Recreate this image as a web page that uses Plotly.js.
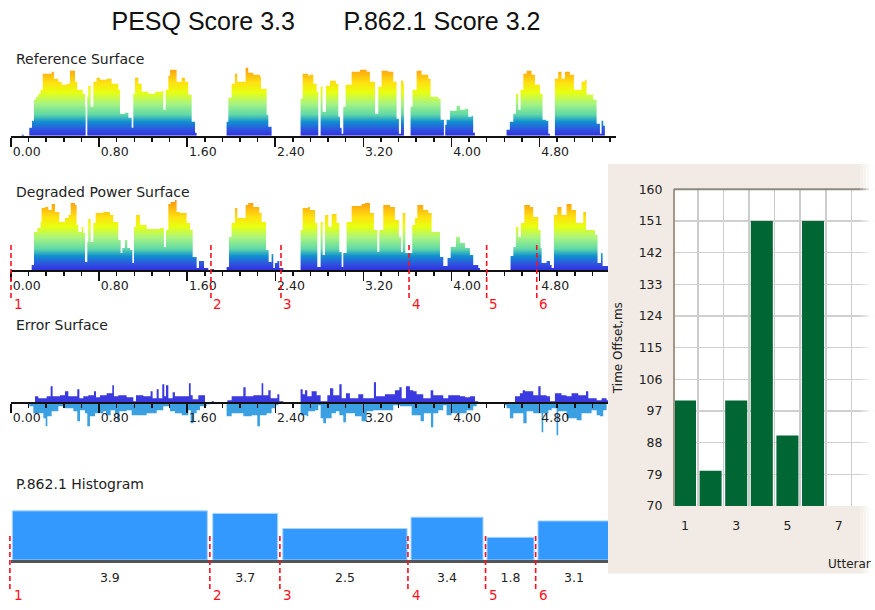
<!DOCTYPE html>
<html><head><meta charset="utf-8">
<script src="https://cdn.plot.ly/plotly-3.0.0.min.js"></script>
<style>html,body{margin:0;padding:0;background:#fff}#c{width:875px;height:610px}</style>
</head><body><div id="c"></div>
<script>
// Time axis ticks (s)
const timeTicks = [0,0.8,1.6,2.4,3.2,4.0,4.8];
const timeLabels = ['0.00','0.80','1.60','2.40','3.20','4.00','4.80'];

// Reference surface: step envelope (time s, level)
const refT = [0.097,0.118,0.166,0.191,0.209,0.227,0.248,0.269,0.288,0.369,0.390,0.430,0.460,0.506,0.536,0.581,0.602,0.651,0.672,0.678,0.693,0.702,0.723,0.748,0.778,0.808,0.869,0.914,0.975,0.990,1.035,1.066,1.096,1.111,1.126,1.156,1.187,1.247,1.311,1.374,1.383,1.405,1.429,1.445,1.489,1.504,1.550,1.580,1.610,1.641,1.671,1.686,
1.958,1.974,2.004,2.034,2.055,2.131,2.155,2.201,2.261,2.270,2.307,2.322,2.337,2.367,
2.630,2.649,2.700,2.715,2.746,2.776,2.791,2.812,2.830,2.861,2.897,2.951,2.973,2.988,3.003,3.018,3.039,3.094,3.169,3.230,3.260,3.306,3.336,3.366,3.427,3.472,3.502,3.523,3.542,3.563,3.569,
3.629,3.647,3.684,3.729,3.790,3.811,3.881,3.902,3.932,3.944,3.956,3.987,4.047,4.077,4.123,4.153,4.183,4.198,4.214,
4.501,4.531,4.562,4.586,4.607,4.628,4.653,4.683,4.728,4.759,4.804,4.828,4.858,4.880,4.895,
4.940,4.970,5.000,5.031,5.076,5.113,5.182,5.213,5.228,5.288,5.319,5.349,5.364,5.379,5.394];
const refV = [1,0,8,15,36,39,42,46,62,64,57,54,51,52,65,54,46,42,29,0,39,50,29,54,58,56,57,52,46,22,23,18,8,42,58,52,44,42,44,45,26,46,60,66,66,54,58,54,41,14,3,0,
14,38,52,62,54,68,63,61,59,47,47,21,9,0,
37,62,60,61,52,44,0,49,24,50,55,52,19,8,2,29,51,64,66,64,54,22,49,65,64,54,17,2,55,52,0,
29,46,65,61,57,39,37,16,0,11,16,25,30,26,27,19,20,3,0,
6,14,22,42,26,46,62,65,61,51,42,16,15,2,0,
57,64,57,64,61,46,54,56,41,36,12,2,15,10,0];

// Degraded power surface: step envelope
const degT = [0.188,0.209,0.239,0.269,0.278,0.309,0.339,0.369,0.400,0.439,0.490,0.521,0.542,0.581,0.596,0.611,0.642,0.657,0.672,0.693,0.702,0.723,0.748,0.769,0.838,0.899,0.929,0.975,0.996,1.011,1.035,1.056,1.081,1.102,1.117,1.135,1.171,1.232,1.353,1.389,1.408,1.429,1.450,1.489,1.504,1.535,1.595,1.626,1.650,1.686,1.707,1.731,1.753,1.792,1.822,1.843,
1.958,1.980,2.004,2.034,2.055,2.131,2.155,2.201,2.255,2.276,2.316,2.340,2.367,2.382,2.397,2.419,2.437,2.473,
2.630,2.649,2.700,2.715,2.761,2.782,2.812,2.830,2.852,2.882,2.912,2.957,2.982,3.003,3.018,3.048,3.094,3.184,3.215,3.260,3.296,3.327,3.345,3.381,3.442,3.487,3.523,3.542,3.557,3.581,3.617,3.644,3.669,3.690,3.744,3.790,3.820,3.872,3.896,3.926,3.965,3.993,4.041,4.077,4.123,4.168,4.198,4.244,4.259,
4.537,4.562,4.586,4.607,4.631,4.662,4.713,4.743,4.789,4.810,4.819,4.864,4.895,4.910,4.931,4.961,5.000,5.046,5.091,5.131,5.197,5.222,5.303,5.327,5.358,5.373,5.415,5.45];
const degV = [5,38,42,48,62,63,60,66,58,48,52,55,67,65,45,38,43,37,8,28,51,28,47,57,58,55,48,30,17,22,30,22,20,7,43,55,45,41,42,23,40,66,68,70,58,57,47,40,13,2,9,9,2,0,1,0,
3,33,47,62,52,65,67,63,57,48,20,8,16,2,7,9,2,0,
40,62,63,60,47,3,48,15,55,43,56,47,18,3,17,48,64,66,67,57,40,18,40,65,63,50,33,18,57,17,17,45,52,65,60,57,38,38,13,4,12,23,33,27,22,15,5,2,0,
14,23,43,33,47,65,63,53,40,22,7,9,5,2,55,63,55,66,60,47,58,40,35,7,17,4,4,0];

// Error surface: positive side
const errUpT = [0.166,0.218,0.248,0.324,0.360,0.378,0.445,0.490,0.521,0.602,0.621,0.657,0.702,0.754,0.772,0.808,0.869,0.920,0.935,0.975,1.050,1.111,1.135,1.202,1.268,1.286,1.323,1.341,1.374,1.392,1.408,1.429,1.468,1.489,1.616,1.632,1.650,1.701,1.762,1.822,1.843,1.965,2.004,2.110,2.131,2.201,2.276,2.291,2.337,2.358,2.419,2.437,2.473,
2.630,2.649,2.670,2.691,2.730,2.776,2.812,2.873,2.897,2.927,2.982,3.003,3.042,3.078,3.154,3.199,3.296,3.315,3.396,3.487,3.527,3.548,3.587,3.623,3.654,3.684,3.744,3.811,3.835,3.926,3.971,4.077,4.123,4.168,4.214,4.244,
4.577,4.622,4.647,4.668,4.743,4.789,4.810,4.864,4.895,4.940,5.000,5.046,5.091,5.152,5.222,5.243,5.319,5.364,5.409,5.45];
const errUpV = [1,7,5,7,17,7,8,12,7,14,5,7,8,12,6,8,10,18,7,8,6,2,8,7,12,5,14,5,19,7,18,5,11,7,20,8,4,8,0,2,0,3,7,16,7,8,20,8,13,5,9,2,0,
14,9,13,7,12,8,2,8,15,8,19,5,10,5,9,5,21,7,9,13,16,5,17,13,12,9,5,13,8,5,8,7,6,7,2,0,
7,10,13,12,8,17,8,7,2,10,8,7,10,8,12,5,3,5,3,0];

// Error surface: negative side
const errLowT = [0.166,0.203,0.294,0.315,0.330,0.369,0.430,0.490,0.566,0.602,0.627,0.672,0.693,0.717,0.763,0.838,0.863,0.905,0.944,0.966,0.984,1.050,1.096,1.232,1.323,1.383,1.444,1.489,1.550,1.610,1.632,1.656,1.686,1.716,1.777,1.807,
1.958,2.004,2.110,2.186,2.237,2.261,2.322,2.367,2.397,2.428,
2.630,2.685,2.700,2.761,2.791,2.812,2.836,2.861,2.912,2.951,2.982,3.018,3.042,3.124,3.184,3.230,3.290,3.472,3.533,3.639,3.720,3.750,3.814,3.835,3.881,3.926,3.956,4.002,4.138,4.198,4.229,
4.477,4.501,4.531,4.562,4.653,4.683,4.743,4.819,4.834,4.880,4.910,4.955,4.970,5.046,5.137,5.182,5.273,5.319,5.349,5.379,5.409];
const errLowV = [-3,-10,-15,-23,-13,-8,-3,-5,-8,-18,-7,-10,-23,-13,-10,-8,-12,-7,-10,-17,-8,-7,-12,-10,-7,-3,-8,-10,-12,-7,-20,-10,-7,-3,-1,0,
-13,-10,-13,-12,-23,-12,-10,-5,-2,0,
-12,-13,-8,-7,-2,-15,-20,-15,-10,-8,-12,-19,-10,-13,-18,-8,-7,-2,-3,-12,-18,-10,-24,-10,-7,-2,-12,-10,-7,-3,0,
-2,-5,-15,-10,-20,-8,-10,-29,-10,-7,-5,-32,-8,-15,-17,-10,-7,-12,-13,-7,0];

// P.862.1 histogram, one bar per utterance
const histStart = [0.012,1.832,2.468,3.633,4.323,4.786];
const histEnd   = [1.783,2.422,3.597,4.287,4.750,5.44];
const histScore = [3.9,3.7,2.5,3.4,1.8,3.1];

// Utterance boundaries (s) and their labels
const uttTimes = [0,1.816,2.452,3.615,4.32,4.775];
const uttLabels = ['1','2','3','4','5','6'];

// Time offset per utterance
const uttNumbers = [1,2,3,4,5,6];
const offsetMs = [100,80,100,151,90,151];
const offsetTicks = [70,79,88,97,106,115,124,133,142,151,160];

const W=875,H=610;
const fx=p=>p/W, fy=p=>1-p/H;
const sans='"DejaVu Sans", sans-serif';
const labelFont={family:sans,size:12.5,color:'#222'};

const surfaceScale=[[0,'#3030e0'],[0.08,'#3050e0'],[0.2,'#1090d0'],[0.3,'#60d8a8'],[0.46,'#a8f480'],[0.62,'#e8ff10'],[0.76,'#ffe010'],[0.88,'#ffb810'],[0.97,'#ff9c10'],[1,'#ff9010']];
function surface(t,v,xa,ya){
  return {x:t,y:v,xaxis:xa,yaxis:ya,type:'scatter',mode:'lines',hoverinfo:'skip',
    line:{shape:'hv',width:0},fill:'tozeroy',
    fillgradient:{type:'vertical',colorscale:surfaceScale,start:0,stop:70}};
}
function errFill(t,v,col){
  return {x:t,y:v,xaxis:'x3',yaxis:'y3',type:'scatter',mode:'lines',hoverinfo:'skip',
    line:{shape:'hv',width:0},fill:'tozeroy',fillcolor:col};
}
function uttLine(t,ya){
  return {x:[t,t],y:[0,1],xaxis:'x6',yaxis:ya,type:'scatter',mode:'lines',hoverinfo:'skip',
    line:{color:'#ff1020',width:1.6,dash:'5px,3px'}};
}
const histMid=histStart.map((s,i)=>(s+histEnd[i])/2);
const data=[
  surface(refT,refV,'x','y'),
  surface(degT,degV,'x2','y2'),
  errFill(errUpT,errUpV,'#3a3ae0'),
  errFill(errLowT,errLowV,'#3aa0e2'),
  {type:'bar',x:histMid,y:histScore,width:histStart.map((s,i)=>histEnd[i]-s),xaxis:'x4',yaxis:'y4',
   marker:{color:'#3399ff',line:{color:'#a8d4ff',width:1}},hoverinfo:'skip'},
  {type:'bar',x:uttNumbers,y:offsetMs,width:0.86,xaxis:'x5',yaxis:'y5',
   marker:{color:'#006633'},hoverinfo:'skip'}
];
uttTimes.forEach(t=>{
  data.push(uttLine(t,'y6'));
  data.push(uttLine(t-0.01,'y7'));
});
const timeAxis=(l,r,maxT)=>({domain:[fx(l),fx(r)],range:[0,maxT],tickmode:'array',tickvals:timeTicks,ticktext:timeLabels,
  ticks:'outside',ticklen:9,tickwidth:1.5,tickcolor:'#111',showgrid:false,zeroline:false,showline:true,linecolor:'#111',linewidth:2,
  ticklabelposition:'outside right',tickfont:labelFont,ticklabelstandoff:3,
  minor:{tickmode:'linear',tick0:0,dtick:0.16,ticks:'outside',ticklen:4,tickwidth:1.5,tickcolor:'#111',showgrid:false}});
const hiddenY=(top,base,r)=>({domain:[fy(base),fy(top)],range:r,visible:false,fixedrange:true});

const shapes=[
  {type:'rect',xref:'paper',yref:'paper',x0:fx(608),x1:1,y0:fy(573.6),y1:fy(164),fillcolor:'#f2ebe5',line:{width:0},layer:'below'},
  {type:'rect',xref:'paper',yref:'paper',x0:fx(675),x1:1,y0:fy(506),y1:fy(189.3),fillcolor:'#ffffff',line:{width:0},layer:'below'},
  {type:'line',xref:'paper',yref:'paper',x0:fx(674),x1:1,y0:fy(189.3),y1:fy(189.3),line:{color:'#8f887c',width:2},layer:'above'}
];
[[860,.2],[863,.3],[866,.45],[869,.85]].forEach(a=>shapes.push(
  {type:'rect',xref:'paper',yref:'paper',x0:fx(a[0]),x1:1,y0:fy(574),y1:fy(164),fillcolor:'#fff',opacity:a[1],line:{width:0},layer:'above'}));

const heads=[['Reference Surface',59],['Degraded Power Surface',192],['Error Surface',325],['P.862.1 Histogram',484]];
const annotations=heads.map(h=>({text:h[0],xref:'paper',yref:'paper',x:fx(14),y:fy(h[1]),xanchor:'left',yanchor:'middle',showarrow:false,
  font:{family:sans,size:14,color:'#222'}}));
uttLabels.forEach((s,i)=>{
  const t=uttTimes[i];
  annotations.push({text:s,xref:'x2',yref:'paper',x:t,y:fy(304),xshift:7,xanchor:'center',yanchor:'middle',showarrow:false,font:{family:sans,size:13.5,color:'#ff1020'}});
  annotations.push({text:s,xref:'x4',yref:'paper',x:t,y:fy(595),xshift:7,xanchor:'center',yanchor:'middle',showarrow:false,font:{family:sans,size:13.5,color:'#ff1020'}});
});
annotations.push({text:'Utterar',xref:'paper',yref:'paper',x:fx(826),y:fy(564),xanchor:'left',yanchor:'middle',showarrow:false,font:{family:sans,size:12,color:'#222'}});

const layout={
  width:W,height:H,margin:{l:0,r:0,t:0,b:0},paper_bgcolor:'#fff',plot_bgcolor:'rgba(0,0,0,0)',showlegend:false,barmode:'overlay',
  title:{text:'PESQ Score 3.3\u00a0\u00a0\u00a0\u00a0\u00a0\u00a0\u00a0P.862.1 Score 3.2',x:fx(326),xanchor:'center',y:fy(21),yanchor:'middle',xref:'container',yref:'container',
    font:{family:'"Liberation Sans", Arial, sans-serif',size:25,color:'#111'}},
  xaxis:Object.assign(timeAxis(11,616,5.495),{anchor:'y'}),
  yaxis:hiddenY(65.7,135.7,[0,70]),
  xaxis2:Object.assign(timeAxis(11,608,5.422),{anchor:'y2'}),
  yaxis2:hiddenY(200,270,[0,70]),
  xaxis3:Object.assign(timeAxis(11,608,5.422),{anchor:'free',position:fy(403.3)}),
  yaxis3:hiddenY(373.3,440.3,[-37,30]),
  xaxis4:{domain:[fx(11),fx(608)],range:[0,5.422],anchor:'y4',tickmode:'array',tickvals:histMid,ticktext:histScore.map(v=>v.toFixed(1)),
    ticks:'',showgrid:false,zeroline:false,showline:true,linecolor:'#555',linewidth:3,tickfont:labelFont,ticklabelstandoff:4},
  yaxis4:hiddenY(505,560,[0,4.365]),
  xaxis5:{domain:[fx(675),1],range:[0.61,8.42],anchor:'y5',tickmode:'array',tickvals:[1,3,5,7],ticks:'',showgrid:false,zeroline:false,
    showline:false,tickfont:labelFont,ticklabelstandoff:10,
    minor:{tickmode:'linear',tick0:0.5,dtick:1,showgrid:true,gridcolor:'#cccccc',gridwidth:1.5,ticks:''}},
  yaxis5:{domain:[fy(506),fy(189.3)],range:[70,160],anchor:'x5',tickmode:'array',tickvals:offsetTicks,ticks:'',gridcolor:'#d0d0d0',gridwidth:1.5,zeroline:false,
    showline:true,linecolor:'#a09888',linewidth:2,mirror:false,tickfont:labelFont,ticklabelstandoff:8,
    title:{text:'Time Offset,ms',font:{family:sans,size:12,color:'#222'},standoff:13}},
  xaxis6:{domain:[fx(8),fx(608)],range:[-0.02725,5.422],visible:false,anchor:'y6',fixedrange:true},
  yaxis6:hiddenY(242,298,[0,1]),
  yaxis7:hiddenY(533,589,[0,1]),
  shapes,annotations
};
Plotly.newPlot('c',data,layout,{displayModeBar:false,staticPlot:true});
</script></body></html>
